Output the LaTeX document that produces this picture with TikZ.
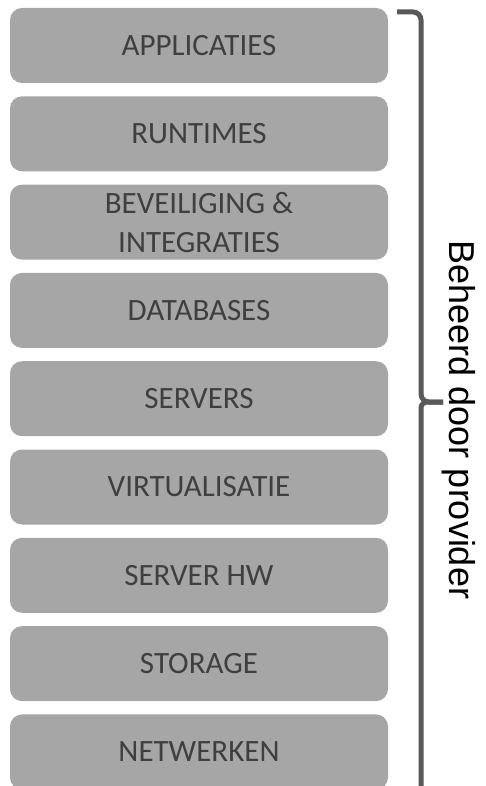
\documentclass[tikz,border=0pt]{standalone}
\usepackage{fontspec}
\setmainfont{Carlito}
\newfontfamily\labelfont{Liberation Sans}
\definecolor{layergray}{HTML}{A6A6A6}
\definecolor{layertext}{HTML}{3F3F3F}
\definecolor{bracegray}{HTML}{595959}

\begin{document}
\begin{tikzpicture}[x=1pt,y=-1pt,
    layer/.style={fill=layergray,rounded corners=12pt},
    layerlabel/.style={text=layertext,align=center,inner sep=0pt,
        font=\fontsize{31}{39}\selectfont}]
    \useasboundingbox (0,0) rectangle (485,786);
    \clip (0,0) rectangle (485,786);
    % de lagen van boven naar beneden
    \foreach \naam [count=\i from 0] in {APPLICATIES,RUNTIMES,
        {BEVEILIGING \&\\INTEGRATIES},DATABASES,SERVERS,VIRTUALISATIE,
        SERVER HW,STORAGE,NETWERKEN}{
        \draw[layer,draw=none] (10,8+88.3*\i) rectangle (388,83+88.3*\i);
        \node[layerlabel] (laag\i) at (199,45.5+88.3*\i) {\naam};
    }
    % accolade
    \draw[bracegray,line width=5pt,rounded corners=8pt]
        (397,12) -- (421,12) -- (421,402) -- (443,402);
    \draw[bracegray,line width=5pt,rounded corners=6pt]
        (421,820) -- (421,402) -- (443,402);
    \node[rotate=-90,inner sep=0pt,font=\labelfont\fontsize{36}{43}\selectfont]
        (beheer) at (459,420) {Beheerd door provider};
\end{tikzpicture}
\end{document}
